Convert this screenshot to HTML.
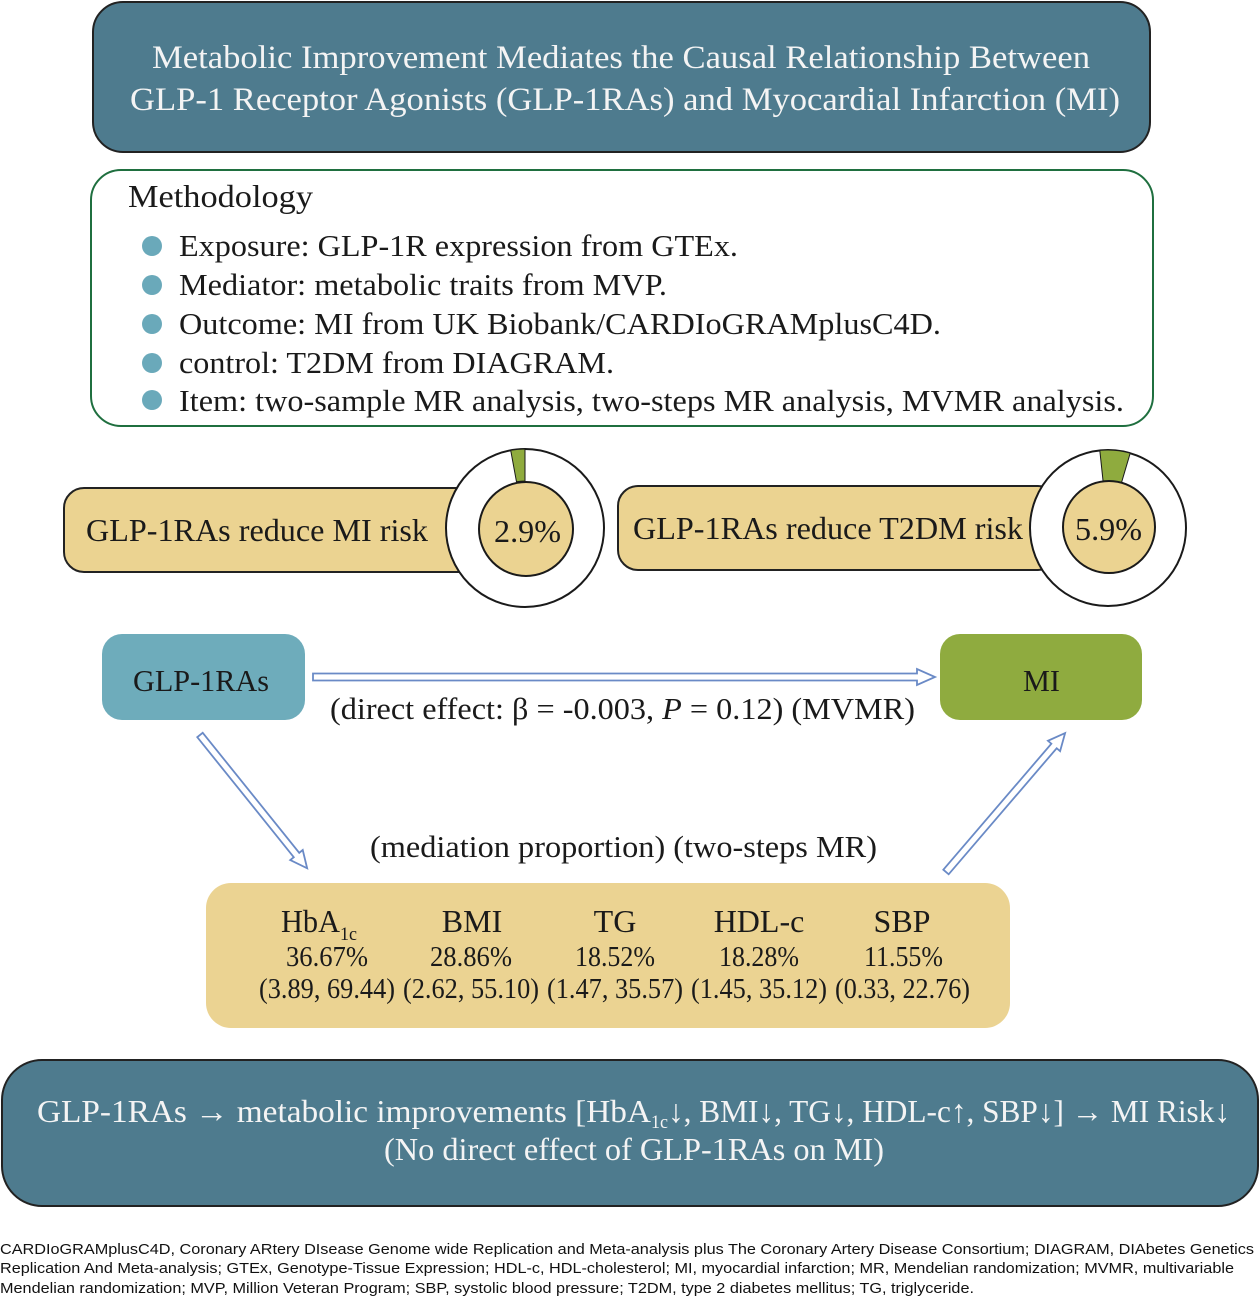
<!DOCTYPE html>
<html><head><meta charset="utf-8"><style>
html,body{margin:0;padding:0;background:#fff;}
svg{display:block;}
.s{font-family:"Liberation Serif","DejaVu Serif",serif;}
.a{font-family:"Liberation Sans","DejaVu Sans",sans-serif;}
</style></head><body>
<svg width="1260" height="1299" viewBox="0 0 1260 1299" xmlns="http://www.w3.org/2000/svg">
<!-- Title box -->
<rect x="93" y="2" width="1057" height="150" rx="30" fill="#4e7b8e" stroke="#222" stroke-width="2"/>
<text class="s" x="152" y="68" font-size="33" fill="#f4f4f4" textLength="938" lengthAdjust="spacingAndGlyphs">Metabolic Improvement Mediates the Causal Relationship Between</text>
<text class="s" x="130" y="110" font-size="33" fill="#f4f4f4" textLength="990" lengthAdjust="spacingAndGlyphs">GLP-1 Receptor Agonists (GLP-1RAs) and Myocardial Infarction (MI)</text>

<!-- Methodology box -->
<rect x="91" y="170" width="1062" height="256" rx="30" fill="#fff" stroke="#1f6f3f" stroke-width="2"/>
<text class="s" x="128" y="207" font-size="32" fill="#1a1a1a" textLength="185" lengthAdjust="spacingAndGlyphs">Methodology</text>
<g fill="#6aa9ba">
<circle cx="152" cy="246" r="10"/>
<circle cx="152" cy="285" r="10"/>
<circle cx="152" cy="324" r="10"/>
<circle cx="152" cy="363" r="10"/>
<circle cx="152" cy="400" r="10"/>
</g>
<g class="s" font-size="31" fill="#1a1a1a">
<text x="179" y="256" textLength="559" lengthAdjust="spacingAndGlyphs">Exposure: GLP-1R expression from GTEx.</text>
<text x="179" y="295" textLength="488" lengthAdjust="spacingAndGlyphs">Mediator: metabolic traits from MVP.</text>
<text x="179" y="334" textLength="762" lengthAdjust="spacingAndGlyphs">Outcome: MI from UK Biobank/CARDIoGRAMplusC4D.</text>
<text x="179" y="373" textLength="435" lengthAdjust="spacingAndGlyphs">control: T2DM from DIAGRAM.</text>
<text x="179" y="411" textLength="945" lengthAdjust="spacingAndGlyphs">Item: two-sample MR analysis, two-steps MR analysis, MVMR analysis.</text>
</g>

<!-- Pill 1 -->
<rect x="64" y="488" width="420" height="84" rx="20" fill="#ebd391" stroke="#222" stroke-width="2"/>
<text class="s" x="86" y="541" font-size="32" fill="#1a1a1a" textLength="342" lengthAdjust="spacingAndGlyphs">GLP-1RAs reduce MI risk</text>
<circle cx="525" cy="528" r="79" fill="#fff" stroke="#1a1a1a" stroke-width="2"/>
<path d="M525,449 L525,481 A47,47 0 0 0 516.5,481.8 L510.7,450.3 A79,79 0 0 1 525,449 Z" fill="#8fab3e" stroke="#1a1a1a" stroke-width="1"/>
<circle cx="526" cy="529" r="47" fill="#ebd391" stroke="#1a1a1a" stroke-width="2"/>
<text class="s" x="494" y="542" font-size="32" fill="#1a1a1a" textLength="67" lengthAdjust="spacingAndGlyphs">2.9%</text>

<!-- Pill 2 -->
<rect x="618" y="486" width="440" height="84" rx="20" fill="#ebd391" stroke="#222" stroke-width="2"/>
<text class="s" x="633" y="539" font-size="32" fill="#1a1a1a" textLength="390" lengthAdjust="spacingAndGlyphs">GLP-1RAs reduce T2DM risk</text>
<circle cx="1108" cy="528" r="78" fill="#fff" stroke="#1a1a1a" stroke-width="2"/>
<path d="M1099.8,450.4 A78,78 0 0 1 1130.2,453.2 L1121.1,484 A46,46 0 0 0 1103.2,482.3 Z" fill="#8fab3e" stroke="#1a1a1a" stroke-width="1"/>
<circle cx="1109" cy="527" r="46" fill="#ebd391" stroke="#1a1a1a" stroke-width="2"/>
<text class="s" x="1075" y="540" font-size="32" fill="#1a1a1a" textLength="67" lengthAdjust="spacingAndGlyphs">5.9%</text>

<!-- GLP-1RAs & MI boxes -->
<rect x="102" y="634" width="203" height="86" rx="20" fill="#6eacbb"/>
<text class="s" x="133" y="691" font-size="31" fill="#1a1a1a" textLength="136" lengthAdjust="spacingAndGlyphs">GLP-1RAs</text>
<rect x="940" y="634" width="202" height="86" rx="20" fill="#8fab3f"/>
<text class="s" x="1023" y="691" font-size="31" fill="#1a1a1a" textLength="37" lengthAdjust="spacingAndGlyphs">MI</text>

<!-- Arrows -->
<g fill="#fff" stroke="#6a8ac6" stroke-width="1.8" stroke-linejoin="miter">
<g transform="translate(313,677)">
<polygon points="0,-3.5 604,-3.5 604,-8 622,0 604,8 604,3.5 0,3.5"/>
</g>
<g transform="translate(200,735) rotate(51.2)">
<polygon points="0,-3.5 154,-3.5 154,-8 171,0 154,8 154,3.5 0,3.5"/>
</g>
<g transform="translate(946,872) rotate(-49.4)">
<polygon points="0,-3.5 166,-3.5 166,-8 183,0 166,8 166,3.5 0,3.5"/>
</g>
</g>
<text class="s" x="330" y="719" font-size="31" fill="#1a1a1a" textLength="585" lengthAdjust="spacingAndGlyphs">(direct effect: β = -0.003, <tspan font-style="italic">P</tspan> = 0.12) (MVMR)</text>
<text class="s" x="370" y="857" font-size="31" fill="#1a1a1a" textLength="507" lengthAdjust="spacingAndGlyphs">(mediation proportion) (two-steps MR)</text>

<!-- Yellow mediator box -->
<rect x="206" y="883" width="804" height="145" rx="25" fill="#ebd392"/>
<g class="s" fill="#1a1a1a">
<text x="281" y="932" font-size="32" textLength="59" lengthAdjust="spacingAndGlyphs">HbA</text>
<text x="340" y="940" font-size="19" textLength="17" lengthAdjust="spacingAndGlyphs">1c</text>
<text x="472" y="932" font-size="32" text-anchor="middle">BMI</text>
<text x="615" y="932" font-size="32" text-anchor="middle">TG</text>
<text x="759" y="932" font-size="32" text-anchor="middle">HDL-c</text>
<text x="902" y="932" font-size="32" text-anchor="middle">SBP</text>

<text x="286" y="966" font-size="28" textLength="82" lengthAdjust="spacingAndGlyphs">36.67%</text>
<text x="430" y="966" font-size="28" textLength="82" lengthAdjust="spacingAndGlyphs">28.86%</text>
<text x="575" y="966" font-size="28" textLength="80" lengthAdjust="spacingAndGlyphs">18.52%</text>
<text x="719" y="966" font-size="28" textLength="80" lengthAdjust="spacingAndGlyphs">18.28%</text>
<text x="864" y="966" font-size="28" textLength="79" lengthAdjust="spacingAndGlyphs">11.55%</text>

<text x="259" y="998" font-size="28" textLength="136" lengthAdjust="spacingAndGlyphs">(3.89, 69.44)</text>
<text x="403" y="998" font-size="28" textLength="136" lengthAdjust="spacingAndGlyphs">(2.62, 55.10)</text>
<text x="547" y="998" font-size="28" textLength="136" lengthAdjust="spacingAndGlyphs">(1.47, 35.57)</text>
<text x="691" y="998" font-size="28" textLength="136" lengthAdjust="spacingAndGlyphs">(1.45, 35.12)</text>
<text x="835" y="998" font-size="28" textLength="135" lengthAdjust="spacingAndGlyphs">(0.33, 22.76)</text>
</g>

<!-- Bottom summary box -->
<rect x="2" y="1060" width="1256" height="146" rx="40" fill="#4e7b8e" stroke="#222" stroke-width="2"/>
<g class="s" fill="#f4f4f4">
<text x="37" y="1122" font-size="32" textLength="614" lengthAdjust="spacingAndGlyphs">GLP-1RAs → metabolic improvements [HbA</text>
<text x="651" y="1128" font-size="19" textLength="17" lengthAdjust="spacingAndGlyphs">1c</text>
<text x="668" y="1122" font-size="32" textLength="562" lengthAdjust="spacingAndGlyphs">↓, BMI↓, TG↓, HDL-c↑, SBP↓] → MI Risk↓</text>
<text x="384" y="1160" font-size="32" textLength="500" lengthAdjust="spacingAndGlyphs">(No direct effect of GLP-1RAs on MI)</text>
</g>

<!-- Footnote -->
<g class="a" font-size="15" fill="#111">
<text x="0" y="1254" textLength="1254" lengthAdjust="spacingAndGlyphs">CARDIoGRAMplusC4D, Coronary ARtery DIsease Genome wide Replication and Meta-analysis plus The Coronary Artery Disease Consortium; DIAGRAM, DIAbetes Genetics</text>
<text x="0" y="1273" textLength="1234" lengthAdjust="spacingAndGlyphs">Replication And Meta-analysis; GTEx, Genotype-Tissue Expression; HDL-c, HDL-cholesterol; MI, myocardial infarction; MR, Mendelian randomization; MVMR, multivariable</text>
<text x="0" y="1293" textLength="974" lengthAdjust="spacingAndGlyphs">Mendelian randomization; MVP, Million Veteran Program; SBP, systolic blood pressure; T2DM, type 2 diabetes mellitus; TG, triglyceride.</text>
</g>
</svg>
</body></html>
